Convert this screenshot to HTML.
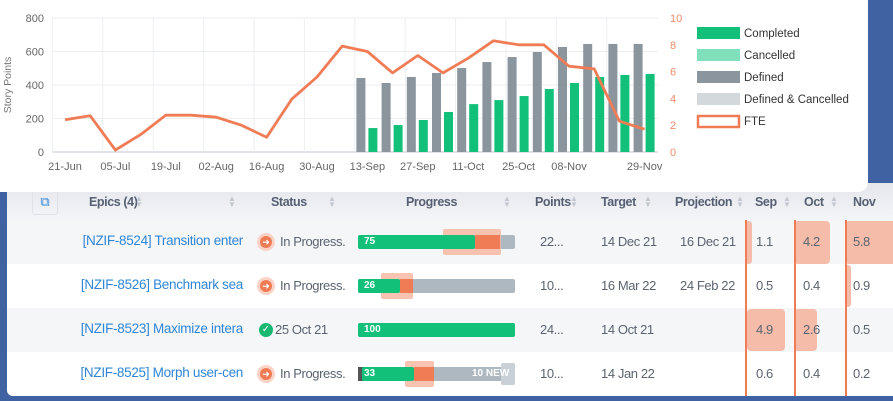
<!DOCTYPE html>
<html><head><meta charset="utf-8">
<style>
*{margin:0;padding:0;box-sizing:border-box}
body{width:893px;height:401px;overflow:hidden;background:#3f63a2;font-family:"Liberation Sans",sans-serif;position:relative}
#chart-card{position:absolute;left:-10px;top:-10px;width:878px;height:202px;background:#fff;border-radius:10px;z-index:2}
#table-card{position:absolute;left:7px;top:183px;width:900px;height:213px;background:#fff;border-radius:0 0 0 6px;overflow:hidden;z-index:1}
.hdr{position:absolute;left:0;top:0;width:100%;height:37px;background:linear-gradient(#e4e6ec,#f4f5f8)}
.row{position:absolute;left:0;width:100%;height:44px}
.t{position:absolute;font-size:13px;color:#5b6470;letter-spacing:-0.4px;white-space:nowrap}
.h{font-weight:bold;color:#566072;font-size:12.5px}
.lnk{color:#2f86d6;font-size:13.5px;letter-spacing:-0.3px}
.arr{position:absolute;font-size:8px;color:#c3c8d0;line-height:6px}
</style></head><body>
<div id="chart-card">
<svg id="chart" width="878" height="202" style="position:absolute;left:10px;top:10px"></svg>
</div>
<div id="table-card">
 <div class="hdr">
  <div style="position:absolute;left:25px;top:6px;width:26px;height:26px;border:1px solid #e0e2e8;border-radius:3px;color:#2f86d6;font-size:13px;text-align:center;line-height:24px">⧉</div>
  <span class="t h" style="left:82px;top:12px">Epics (4)</span>
  <span class="t h" style="left:264px;top:12px">Status</span>
  <span class="t h" style="left:399px;top:12px">Progress</span>
  <span class="t h" style="left:528px;top:12px">Points</span>
  <span class="t h" style="left:594px;top:12px">Target</span>
  <span class="t h" style="left:668px;top:12px">Projection</span>
  <span class="t h" style="left:748px;top:12px">Sep</span>
  <span class="t h" style="left:797px;top:12px">Oct</span>
  <span class="t h" style="left:846px;top:12px">Nov</span>
  <span class="arr" style="left:128px;top:13px">▲<br>▼</span>
  <span class="arr" style="left:221px;top:13px">▲<br>▼</span>
  <span class="arr" style="left:321px;top:13px">▲<br>▼</span>
  <span class="arr" style="left:496px;top:13px">▲<br>▼</span>
  <span class="arr" style="left:563px;top:13px">▲<br>▼</span>
  <span class="arr" style="left:637px;top:13px">▲<br>▼</span>
  <span class="arr" style="left:729px;top:13px">▲<br>▼</span>
  <span class="arr" style="left:776px;top:13px">▲<br>▼</span>
  <span class="arr" style="left:823px;top:13px">▲<br>▼</span>
 </div>
 <div id="rows"></div>
</div>
<script>
// ---------- chart data ----------
const weeks=["21-Jun","28-Jun","05-Jul","12-Jul","19-Jul","26-Jul","02-Aug","09-Aug","16-Aug","23-Aug","30-Aug","06-Sep","13-Sep","20-Sep","27-Sep","04-Oct","11-Oct","18-Oct","25-Oct","01-Nov","08-Nov","15-Nov","22-Nov","29-Nov"];
const tickLabels=["21-Jun","05-Jul","19-Jul","02-Aug","16-Aug","30-Aug","13-Sep","27-Sep","11-Oct","25-Oct","08-Nov","29-Nov"];
const fte=[2.4,2.7,0.15,1.3,2.75,2.75,2.6,2.0,1.1,3.95,5.6,7.9,7.5,5.9,7.2,5.9,7.0,8.3,8.0,8.0,6.4,6.2,2.3,1.7];
const defined=[null,null,null,null,null,null,null,null,null,null,null,null,442,412,448,472,501,537,567,597,627,645,645,645];
const completed=[null,null,null,null,null,null,null,null,null,null,null,null,143,161,191,239,286,310,334,376,412,448,460,466];
const leftTicks=[0,200,400,600,800];
const rightTicks=[0,2,4,6,8,10];
const legendItems=["Completed","Cancelled","Defined","Defined & Cancelled","FTE"];

const NS="http://www.w3.org/2000/svg";
const svg=document.getElementById('chart');
function el(tag,attrs,parent){const e=document.createElementNS(NS,tag);for(const k in attrs)e.setAttribute(k,attrs[k]);(parent||svg).appendChild(e);return e;}
const bandStart=52.4,bandW=25.2,plotRight=658,y0=152,yTop=18;
const xc=i=>bandStart+bandW*(i+0.5);
const yL=v=>y0-(v/800)*(y0-yTop);
const yR=v=>y0-(v/10)*(y0-yTop);
leftTicks.forEach(v=>{
 const g=el('line',{x1:bandStart,x2:plotRight,y1:yL(v),y2:yL(v),stroke:v===0?'#bfc4cc':'#eceef1','stroke-width':1});
 
 
 const t=el('text',{x:44,y:yL(v)+4,'text-anchor':'end','font-size':11,fill:'#666'});t.textContent=v;
 
 
});
for(let i=0;i<weeks.length;i+=2){
 const g=el('line',{x1:bandStart+bandW*i,x2:bandStart+bandW*i,y1:yTop,y2:y0,stroke:'#eceef1','stroke-width':1});
 
 
}
tickLabels.forEach(l=>{
 const i=weeks.indexOf(l);
 const t=el('text',{x:xc(i),y:170,'text-anchor':'middle','font-size':11,fill:'#666'});t.textContent=l;
 
 
});
rightTicks.forEach(v=>{
 const t=el('text',{x:670,y:yR(v)+4,'text-anchor':'start','font-size':11,fill:'#f08a68'});t.textContent=v;
 
 
});
const yt=el('text',{x:11,y:85,'text-anchor':'middle','font-size':10.5,fill:'#777',transform:'rotate(-90 11 85)'});yt.textContent='Story Points';


weeks.forEach((w,i)=>{
 if(defined[i]!=null){
  const b=el('rect',{x:xc(i)-11,y:yL(defined[i]),width:9,height:y0-yL(defined[i]),fill:'#8a959e'});
  
  
 }
 if(completed[i]!=null){
  const b=el('rect',{x:xc(i)+1,y:yL(completed[i]),width:9,height:y0-yL(completed[i]),fill:'#12c07a'});
  
  
 }
});
const pts=fte.map((v,i)=>xc(i).toFixed(1)+','+yR(v).toFixed(1)).join(' ');
const ln=el('polyline',{points:pts,fill:'none',stroke:'#f07c55','stroke-width':2.8,'stroke-linejoin':'round'});


const legFill=['#12c07a','#7fe0bb','#8a959e','#d3d8dd',null];
legendItems.forEach((n,i)=>{
 const y=27+i*22;
 const g=el('g',{});
 
 
 if(legFill[i])el('rect',{x:697,y:y,width:43,height:12,fill:legFill[i]},g);
 else el('rect',{x:698,y:y+1,width:41,height:11,fill:'#fff',stroke:'#f07c55','stroke-width':2.5},g);
 const t=el('text',{x:744,y:y+10,'font-size':11.5,fill:'#333'},g);t.textContent=n;
});

// ---------- table ----------
const rows=[
 {id:"[NZIF-8524] Transition enter",status:"In Progress.",done:false,pct:75,pts:"22...",target:"14 Dec 21",proj:"16 Dec 21",sep:"1.1",oct:"4.2",nov:"5.8"},
 {id:"[NZIF-8526] Benchmark sea",status:"In Progress.",done:false,pct:26,pts:"10...",target:"16 Mar 22",proj:"24 Feb 22",sep:"0.5",oct:"0.4",nov:"0.9"},
 {id:"[NZIF-8523] Maximize intera",status:"25 Oct 21",done:true,pct:100,pts:"24...",target:"14 Oct 21",proj:"",sep:"4.9",oct:"2.6",nov:"0.5"},
 {id:"[NZIF-8525] Morph user-cen",status:"In Progress.",done:false,pct:33,pts:"10...",target:"14 Jan 22",proj:"",sep:"0.6",oct:"0.4",nov:"0.2"}
];
const bars=[
 {green:[351,468],orange:[468,493],hl:[436,494],gray:508},
 {green:[351,393],orange:[393,406],hl:[374,406],gray:508},
 {green:[351,508],orange:null,hl:null,gray:508},
 {green:[355,407],orange:[407,427],hl:[398,427],gray:508,dark:true,tail:true}
];
const heat=[
 [[738,745],[787,823],[838,900]],
 [null,null,[838,844]],
 [[740,778],[787,810],null],
 [null,null,null]
];
const R=document.getElementById('rows');
rows.forEach((r,k)=>{
 const top=37+k*44;
 const d=document.createElement('div');d.className='row';d.style.top=top+'px';d.style.background=k%2?'#fff':'#f5f6f8';
 
 
 let h='';
 heat[k].forEach(c=>{if(c)h+=`<div style="position:absolute;left:${c[0]}px;top:1px;width:${c[1]-c[0]}px;height:${k==0?43:42}px;background:#f6bcaa;border-radius:4px"></div>`;});
 h+=`<span class="t lnk" style="right:${900-236}px;top:13px">${r.id}</span>`;
 if(r.done)h+=`<span style="position:absolute;left:252px;top:15px;width:14px;height:14px;border-radius:7px;background:#16b86f;color:#fff;font-size:10px;text-align:center;line-height:14px">✓</span><span class="t" style="left:268px;top:14px">${r.status}</span>`;
 else h+=`<span style="position:absolute;left:250px;top:13px;width:18px;height:18px;border-radius:9px;background:#fbd3c6"></span><span style="position:absolute;left:253px;top:16px;width:12px;height:12px;border-radius:6px;background:#f07c55;color:#fff;font-size:9px;text-align:center;line-height:12px">➜</span><span class="t" style="left:273px;top:14px">${r.status}</span>`;
 const b=bars[k];
 h+=`<div style="position:absolute;left:351px;top:15px;width:${b.gray-351}px;height:14px;background:#adb8c1;border-radius:2px"></div>`;
 if(b.tail)h+=`<div style="position:absolute;left:494px;top:11px;width:14px;height:22px;background:#c9d0d6;border-radius:2px"></div>`;
 if(b.hl)h+=`<div style="position:absolute;left:${b.hl[0]}px;top:9px;width:${b.hl[1]-b.hl[0]}px;height:26px;background:#f8b9a5;opacity:.85;border-radius:2px"></div>`;
 if(b.dark)h+=`<div style="position:absolute;left:351px;top:15px;width:5px;height:14px;background:#555"></div>`;
 h+=`<div style="position:absolute;left:${b.green[0]}px;top:15px;width:${b.green[1]-b.green[0]}px;height:14px;background:#12c07a;border-radius:2px"></div>`;
 if(b.orange)h+=`<div style="position:absolute;left:${b.orange[0]}px;top:15px;width:${b.orange[1]-b.orange[0]}px;height:14px;background:#f07c55"></div>`;
 h+=`<span style="position:absolute;left:357px;top:16px;font-size:10px;font-weight:bold;color:#fff">${r.pct}</span>`;
 if(b.tail)h+=`<span style="position:absolute;left:465px;top:16px;font-size:10px;font-weight:bold;color:#fff">10 NEW</span>`;
 h+=`<span class="t" style="left:533px;top:14px">${r.pts}</span>`;
 h+=`<span class="t" style="left:594px;top:14px">${r.target}</span>`;
 h+=`<span class="t" style="left:673px;top:14px">${r.proj}</span>`;
 h+=`<span class="t" style="left:749px;top:14px">${r.sep}</span>`;
 h+=`<span class="t" style="left:796px;top:14px">${r.oct}</span>`;
 h+=`<span class="t" style="left:846px;top:14px">${r.nov}</span>`;
 d.innerHTML=h;R.appendChild(d);
});
[738,787,838].forEach(x=>{const l=document.createElement('div');l.style.cssText=`position:absolute;left:${x}px;top:37px;width:2px;height:176px;background:#f07c55`;
 
 
 R.appendChild(l);});
</script>
</body></html>
